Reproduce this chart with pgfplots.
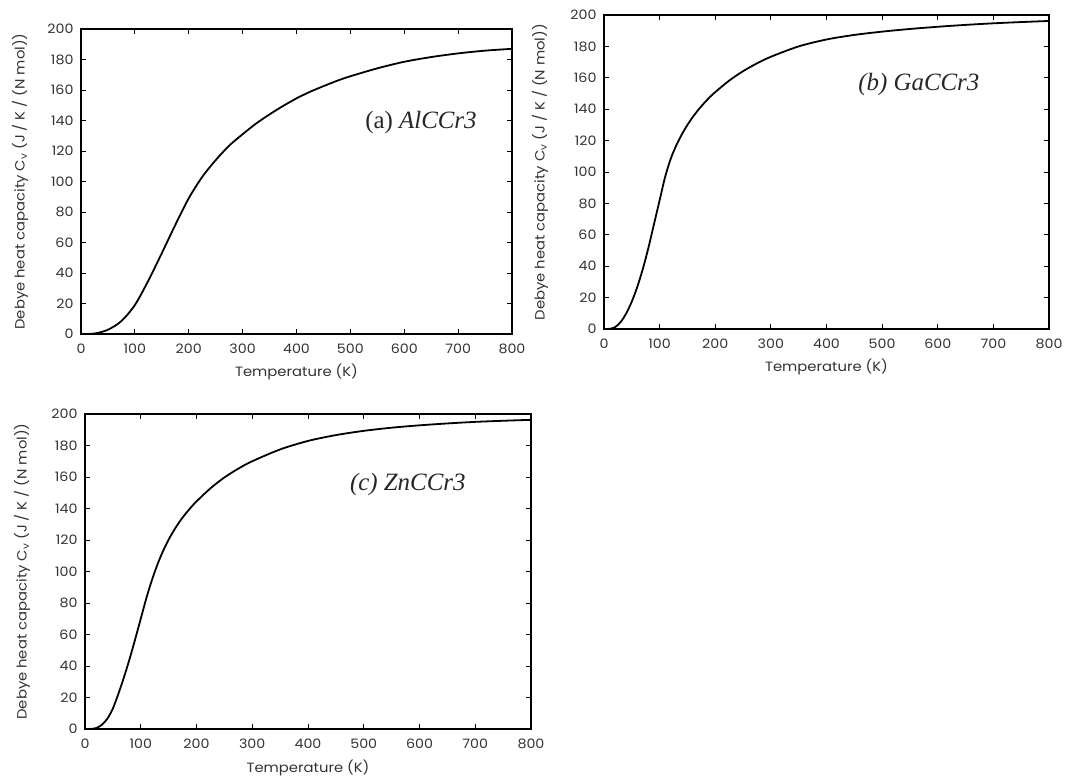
\documentclass[border=0pt]{standalone}
\usepackage{fontspec}
\setmainfont{Poppins}[FakeStretch=1.1]
\newfontfamily\annotfont{Liberation Serif}
\usepackage{pgfplots}
\pgfplotsset{compat=1.18}

% common look of the three Debye heat capacity panels
\pgfplotsset{debye/.style={
  scale only axis, anchor=south west,
  xmin=0, xmax=800, ymin=0, ymax=200,
  xtick={0,100,...,800}, ytick={0,20,...,200},
  tick align=inside, xtick pos=both, ytick pos=both,
  major tick length=5bp,
  axis line style={line width=1.5bp},
  tick style={black, line width=0.8bp},
  /pgf/number format/assume math mode=true,
  ticklabel style={font=\fontsize{13}{14}\selectfont, text=black!80},
  xticklabel style={yshift=-6.5bp},
  yticklabel style={xshift=-4bp},
  label style={font=\fontsize{13.5}{14}\selectfont, text=black!80},
  xlabel={Temperature (K)},
  ylabel={Debye heat capacity C\textsubscript{v} (J / K / (N mol))},
}}
\tikzset{annot/.style={font=\annotfont\fontsize{25}{25}\selectfont, text=black!85}}

\begin{document}
\begin{tikzpicture}
\useasboundingbox (0,0) rectangle (1067bp,778bp);

% (a) AlCCr3
\begin{axis}[debye, at={(81bp,444bp)}, width=431bp, height=305bp,
  xlabel style={at={(axis description cs:0.5,-0.123)}, anchor=center},
  ylabel style={at={(axis description cs:-0.1415,0.5)}, anchor=center}]
\addplot[black, line width=1.8bp, smooth, no marks] coordinates {
(0,0) (25,0.3) (50,2.8) (75,8.5) (100,19) (125,35) (150,53) (175,71.5)
(200,89) (225,103) (250,114) (275,123.5) (300,131) (325,138) (350,144)
(375,149.5) (400,154.5) (425,158.8) (450,162.5) (475,166) (500,169)
(550,174.2) (600,178.5) (650,181.6) (700,184) (750,185.8) (800,187)};
\node[annot] at (axis cs:631,139) {(a) \textit{AlCCr3}};
\end{axis}

% (b) GaCCr3
\begin{axis}[debye, at={(604bp,449bp)}, width=445bp, height=314bp,
  xlabel style={at={(axis description cs:0.5,-0.12)}, anchor=center},
  ylabel style={at={(axis description cs:-0.144,0.5)}, anchor=center}]
\addplot[black, line width=1.8bp, smooth, no marks] coordinates {
(0,0) (10,0.1) (20,1.2) (30,4.5) (40,10) (50,17.5) (60,27) (70,38.5)
(80,52) (90,67) (100,82) (110,97) (120,108.5) (130,117) (140,124)
(150,130) (160,135.2) (170,139.8) (180,143.9) (190,147.6) (200,150.9)
(225,158.2) (250,164.2) (275,169.2) (300,173.4) (350,180) (400,184.4)
(450,187.3) (500,189.4) (550,191.1) (600,192.5) (650,193.7) (700,194.7)
(750,195.5) (800,196.2)};
\node[annot, font=\annotfont\fontsize{25}{25}\selectfont\itshape] at (axis cs:566,156) {(b) GaCCr3};
\end{axis}

% (c) ZnCCr3
\begin{axis}[debye, at={(85bp,49bp)}, width=446bp, height=315bp,
  xlabel style={at={(axis description cs:0.5,-0.124)}, anchor=center},
  ylabel style={at={(axis description cs:-0.141,0.5)}, anchor=center}]
\addplot[black, line width=1.8bp, smooth, no marks] coordinates {
(0,0) (10,0.05) (20,0.6) (30,2.6) (40,6.5) (50,13) (60,22.5) (70,33)
(80,44.5) (90,57) (100,70) (110,83) (120,94.5) (130,104.5) (140,113)
(150,120.2) (160,126.4) (170,131.8) (180,136.5) (190,140.7) (200,144.5)
(225,152.8) (250,159.7) (275,165.3) (300,170) (350,177.5) (400,182.9)
(450,186.6) (500,189.3) (550,191.3) (600,192.8) (650,194) (700,195)
(750,195.7) (800,196.3)};
\node[annot, font=\annotfont\fontsize{25}{25}\selectfont\itshape] at (axis cs:579,155) {(c) ZnCCr3};
\end{axis}
\end{tikzpicture}
\end{document}
